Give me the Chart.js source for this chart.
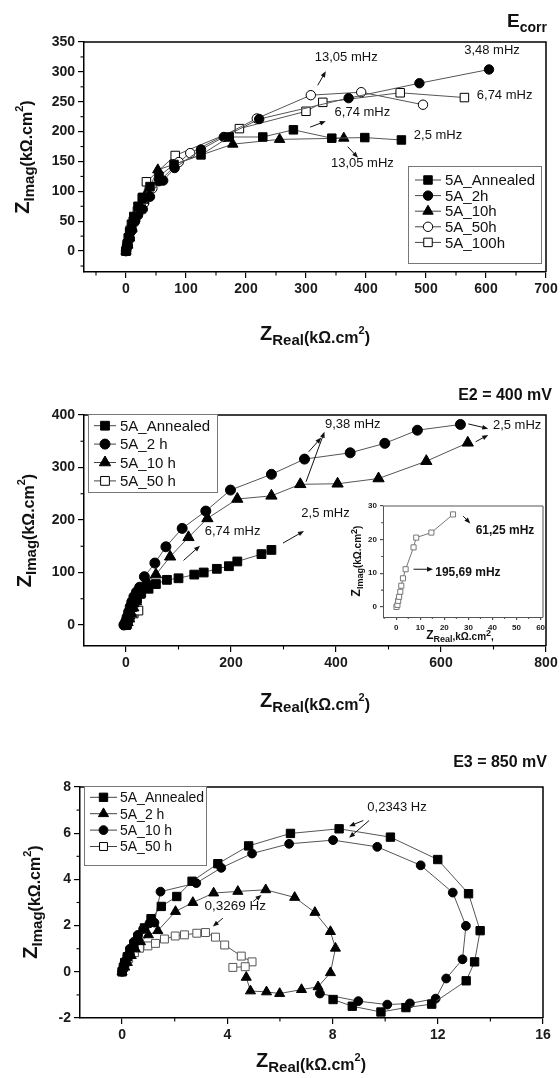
<!DOCTYPE html>
<html>
<head>
<meta charset="utf-8">
<script src="https://cdn.jsdelivr.net/npm/chart.js@4"></script>
<style>
html, body { margin: 0; padding: 0; background: #fff; }
#wrap { position: relative; width: 560px; height: 1078px; }
.p { position: absolute; left: 0; width: 560px; }
</style>
</head>
<body>
<div id="wrap">
  <div class="p" style="top:0;height:360px"><canvas id="c1"></canvas></div>
  <div class="p" style="top:360px;height:360px"><canvas id="c2"></canvas></div>
  <div class="p" style="top:720px;height:358px"><canvas id="c3"></canvas></div>
  <div class="p" style="top:500px;left:345px;width:205px;height:145px"><canvas id="c2i"></canvas></div>
</div>
<script>
const FONTE = '"Liberation Sans", Arial, sans-serif';

// ---------- E_corr ----------
const ecorrXTicks = [0, 100, 200, 300, 400, 500, 600, 700];
const ecorrYTicks = [0, 50, 100, 150, 200, 250, 300, 350];
const ecorrNomes = ['5A_Annealed', '5A_2h', '5A_10h', '5A_50h', '5A_100h'];
const ecorrAnnealed = [[0,0],[1,5],[2,12],[4,22],[6,32],[9,45],[13,58],[20,75],[28,90],[40,108],[55,125],[80,145],[125,161],[172,191],[228,191],[279,203],[343,189],[398,190],[459,186]];
const ecorr2h = [[0,0],[3,10],[6,22],[10,35],[15,50],[20,60],[28,70],[40,91],[55,117],[62,118],[81,139],[125,170],[163,191],[222,221],[371,256],[489,281],[605,304]];
const ecorr10h = [[0,0],[3,10],[6,22],[10,38],[15,55],[22,70],[30,85],[36,100],[53,136],[178,179],[256,187],[363,189]];
const ecorr50h = [[0,0],[3,8],[6,20],[10,35],[14,48],[20,62],[30,80],[44,105],[88,149],[107,164],[218,222],[308,261],[392,266],[495,245]];
const ecorr100h = [[0,0],[2,10],[4,22],[7,35],[12,50],[19,67],[27,89],[34,116],[82,160],[189,205],[300,234],[328,249],[457,265],[564,257]];

// ---------- E2 = 400 mV ----------
const e2XTicks = [0, 200, 400, 600, 800];
const e2YTicks = [0, 100, 200, 300, 400];
const e2Nomes = ['5A_Annealed', '5A_2 h', '5A_10 h', '5A_50 h'];
const e2Annealed = [[0,0],[2,6],[5,14],[8,24],[12,34],[16,43],[21,50],[29,61],[43,69],[57,78],[78,86],[100,89],[130,96],[148,100],[173,107],[196,112],[212,121],[258,135],[277,143]];
const e22h = [[-4,0],[-2,3],[0,8],[2,15],[5,25],[8,35],[11,44],[15,54],[20,63],[26,72],[35,92],[55,118],[76,149],[107,184],[152,217],[199,257],[277,287],[340,316],[427,328],[493,346],[555,371],[637,382]];
const e210h = [[0,0],[3,5],[6,12],[10,22],[14,33],[19,45],[25,57],[32,70],[40,83],[57,96],[84,130],[119,167],[155,203],[212,240],[277,246],[332,268],[403,269],[481,279],[572,312],[651,347]];
const e250h = [[0.1,0],[0.5,0.6],[0.8,1.8],[1.2,3.0],[1.7,4.5],[2.1,6.3],[2.8,8.5],[3.9,11.2],[7.2,17.7],[8.3,20.6],[14.6,22.1],[23.6,27.5]];
const insetXTicks = [0, 10, 20, 30, 40, 50, 60];
const insetYTicks = [0, 10, 20, 30];

// ---------- E3 = 850 mV ----------
const e3XTicks = [0, 4, 8, 12, 16];
const e3YTicks = [-2, 0, 2, 4, 6, 8];
const e3Nomes = ['5A_Annealed', '5A_2 h', '5A_10 h', '5A_50 h'];
const e3Annealed = [[0,0],[0.05,0.2],[0.1,0.4],[0.2,0.65],[0.3,0.9],[0.45,1.2],[0.6,1.5],[0.85,1.9],[1.1,2.3],[1.49,2.83],[2.08,3.26],[2.66,3.92],[3.64,4.68],[4.81,5.45],[6.4,5.99],[8.25,6.19],[10.2,5.83],[12.0,4.86],[13.17,3.38],[13.61,1.78],[13.4,0.43],[13.08,-0.39],[11.77,-1.4],[10.79,-1.55],[9.84,-1.74],[8.75,-1.49],[8.02,-1.2]];
const e32h = [[0,0],[0.1,0.2],[0.2,0.4],[0.35,0.7],[0.5,1.0],[0.7,1.3],[1.0,1.6],[1.36,1.78],[2.03,2.61],[2.69,3.0],[3.48,3.41],[4.4,3.48],[5.46,3.55],[6.56,3.22],[7.33,2.57],[7.92,1.74],[8.11,1.02],[7.92,-0.04],[7.45,-0.65],[6.82,-0.77],[5.99,-0.94],[5.49,-0.87],[4.88,-0.83],[4.72,-0.24]];
const e310h = [[0,0],[0.05,0.2],[0.1,0.45],[0.2,0.7],[0.3,1.0],[0.45,1.3],[0.6,1.6],[0.8,1.85],[1.04,2.1],[1.23,2.13],[1.46,3.47],[2.82,3.84],[3.77,4.5],[4.94,5.12],[6.35,5.54],[8.02,5.7],[9.7,5.41],[11.35,4.61],[12.57,3.43],[13.07,1.99],[12.94,0.54],[12.32,-0.29],[11.92,-1.16],[10.94,-1.37],[10.08,-1.42],[8.98,-1.27],[7.52,-0.94]];
const e350h = [[0,0],[0.1,0.3],[0.25,0.58],[0.47,0.83],[0.66,1.02],[0.98,1.12],[1.27,1.23],[1.61,1.42],[2.02,1.55],[2.37,1.6],[2.84,1.67],[3.17,1.7],[3.55,1.5],[3.9,1.16],[4.53,0.68],[4.94,0.43],[4.68,0.22],[4.21,0.19]];

// ---------- helpers ----------
function pts(arr) { return arr.map(p => ({ x: p[0], y: p[1] })); }

function serie(nome, dados, estilo, cheio, r, cor) {
  return {
    label: nome, data: pts(dados), showLine: true,
    borderColor: cor || '#555', borderWidth: 1,
    pointStyle: estilo, pointRadius: r, pointBorderWidth: 1,
    pointBorderColor: cor || '#000',
    pointBackgroundColor: cheio ? '#000' : '#fff'
  };
}

function eixo(min, max, ticks, extra) {
  const e = Object.assign({ tam: 14, tl: 6, cor: '#000', larg: 1.5, fixo: 30 }, extra || {});
  return {
    type: 'linear', min: min, max: max,
    afterBuildTicks: s => { s.ticks = ticks.map(v => ({ value: v })); },
    afterFit: s => {
      if (s.isHorizontal()) { s.height = e.fixo; s.paddingLeft = 0; s.paddingRight = 0; }
      else { s.width = e.fixo; s.paddingTop = 0; s.paddingBottom = 0; }
    },
    grid: { drawOnChartArea: false, drawTicks: true, tickLength: e.tl, lineWidth: 1.2, color: e.cor },
    border: { display: true, color: e.cor, width: e.larg },
    ticks: { color: '#1a1a1a', font: { family: FONTE, size: e.tam, weight: 'bold' }, padding: 3, maxRotation: 0, autoSkip: false }
  };
}

function marcador(ctx, estilo, r, x, y) {
  ctx.beginPath();
  if (estilo === 'circle') ctx.arc(x, y, r, 0, Math.PI * 2);
  else if (estilo === 'rect') { const s = r * Math.SQRT1_2; ctx.rect(x - s, y - s, 2 * s, 2 * s); }
  else {
    for (let k = 0; k < 3; k++) {
      const a = k * 2 * Math.PI / 3;
      const px = x + Math.sin(a) * r, py = y - Math.cos(a) * r;
      k ? ctx.lineTo(px, py) : ctx.moveTo(px, py);
    }
    ctx.closePath();
  }
  ctx.fill(); ctx.stroke();
}

function seta(ctx, x1, y1, x2, y2) {
  const a = Math.atan2(y2 - y1, x2 - x1), L = 6, W = 2.4;
  ctx.beginPath(); ctx.moveTo(x1, y1); ctx.lineTo(x2 - Math.cos(a) * L * 0.8, y2 - Math.sin(a) * L * 0.8); ctx.stroke();
  ctx.beginPath();
  ctx.moveTo(x2, y2);
  ctx.lineTo(x2 - Math.cos(a) * L - Math.sin(a) * W, y2 - Math.sin(a) * L + Math.cos(a) * W);
  ctx.lineTo(x2 - Math.cos(a) * L + Math.sin(a) * W, y2 - Math.sin(a) * L - Math.cos(a) * W);
  ctx.closePath(); ctx.fill();
}

function desenhaRico(ctx, partes, alinhar) {
  let total = 0;
  partes.forEach(p => { ctx.font = 'bold ' + p.s + 'px ' + FONTE; p.w = ctx.measureText(p.t).width; total += p.w; });
  let cx = alinhar === 'right' ? -total : alinhar === 'center' ? -total / 2 : 0;
  partes.forEach(p => { ctx.font = 'bold ' + p.s + 'px ' + FONTE; ctx.fillText(p.t, cx, p.dy || 0); cx += p.w; });
}

// moldura: borda superior/direita + ticks menores
const moldura = {
  id: 'moldura',
  afterDraw(chart, args, o) {
    const { ctx, chartArea: ca, scales: { x, y } } = chart;
    const cor = o.cor || '#000', tl = o.tl || 3.5;
    ctx.save();
    ctx.strokeStyle = cor; ctx.lineWidth = o.larg || 1.5;
    ctx.beginPath(); ctx.moveTo(ca.left, ca.top); ctx.lineTo(ca.right, ca.top); ctx.lineTo(ca.right, ca.bottom); ctx.stroke();
    ctx.lineWidth = 1.1;
    const menores = (esc, ticks) => {
      const passo = ticks[1] - ticks[0];
      const m = [];
      for (let v = ticks[0] - passo / 2; v <= esc.max; v += passo) if (v >= esc.min) m.push(v);
      return m;
    };
    menores(x, o.xt).forEach(v => { const p = x.getPixelForValue(v); ctx.beginPath(); ctx.moveTo(p, ca.bottom); ctx.lineTo(p, ca.bottom + tl); ctx.stroke(); });
    menores(y, o.yt).forEach(v => { const p = y.getPixelForValue(v); ctx.beginPath(); ctx.moveTo(ca.left, p); ctx.lineTo(ca.left - tl, p); ctx.stroke(); });
    ctx.restore();
  }
};

const legendaCaixa = {
  id: 'legendaCaixa',
  afterDraw(chart, args, o) {
    if (!o.w) return;
    const ctx = chart.ctx;
    ctx.save();
    ctx.fillStyle = '#fff'; ctx.fillRect(o.x, o.y, o.w, o.h);
    ctx.strokeStyle = '#777'; ctx.lineWidth = 1; ctx.strokeRect(o.x + 0.5, o.y + 0.5, o.w, o.h);
    ctx.font = o.tam + 'px ' + FONTE; ctx.textBaseline = 'middle';
    chart.data.datasets.forEach((ds, i) => {
      const cy = o.y0 + i * o.passo;
      ctx.strokeStyle = '#444'; ctx.lineWidth = 1;
      ctx.beginPath(); ctx.moveTo(o.l0, cy); ctx.lineTo(o.l1, cy); ctx.stroke();
      ctx.fillStyle = ds.pointBackgroundColor; ctx.strokeStyle = '#000';
      marcador(ctx, ds.pointStyle, ds.pointRadius, (o.l0 + o.l1) / 2, cy);
      ctx.fillStyle = '#111'; ctx.fillText(ds.label, o.tx, cy + 1);
    });
    ctx.restore();
  }
};

const anotacoes = {
  id: 'anotacoes',
  afterDraw(chart, args, o) {
    if (!o.itens) return;
    const { ctx, scales: { x, y } } = chart;
    ctx.save();
    ctx.fillStyle = '#111'; ctx.strokeStyle = '#111'; ctx.lineWidth = 1;
    ctx.textAlign = 'center'; ctx.textBaseline = 'middle';
    o.itens.forEach(a => {
      if (a.t) { ctx.font = a.f || ('13px ' + FONTE); ctx.fillText(a.t, x.getPixelForValue(a.x), y.getPixelForValue(a.y)); }
      else seta(ctx, x.getPixelForValue(a.x1), y.getPixelForValue(a.y1), x.getPixelForValue(a.x2), y.getPixelForValue(a.y2));
    });
    ctx.restore();
  }
};

const titulos = {
  id: 'titulos',
  afterDraw(chart, args, o) {
    if (!o.itens) return;
    const ctx = chart.ctx;
    ctx.save(); ctx.fillStyle = '#111'; ctx.textBaseline = 'alphabetic'; ctx.textAlign = 'left';
    o.itens.forEach(it => {
      ctx.save(); ctx.translate(it.x, it.y);
      if (it.rot) ctx.rotate(-Math.PI / 2);
      desenhaRico(ctx, it.partes, it.alinhar);
      ctx.restore();
    });
    ctx.restore();
  }
};

Chart.register(moldura, legendaCaixa, anotacoes, titulos);

const zReal = () => [{ t: 'Z', s: 20 }, { t: 'Real', s: 15, dy: 5 }, { t: '(kΩ.cm', s: 16, dy: 3 }, { t: '2', s: 11, dy: -6 }, { t: ')', s: 16, dy: 3 }];
const zImag = () => [{ t: 'Z', s: 20 }, { t: 'Imag', s: 15, dy: 5 }, { t: '(kΩ.cm', s: 16, dy: 3 }, { t: '2', s: 11, dy: -6 }, { t: ')', s: 16, dy: 3 }];

function grafico(id, datasets, sx, sy, padding, plugins) {
  return new Chart(document.getElementById(id), {
    type: 'scatter',
    data: { datasets: datasets },
    options: {
      responsive: true, maintainAspectRatio: false, animation: false,
      layout: { padding: padding },
      scales: { x: sx, y: sy },
      plugins: Object.assign({ legend: { display: false }, tooltip: { enabled: false } }, plugins)
    }
  });
}

// ---------- painel 1 ----------
grafico('c1', [
  serie(ecorrNomes[0], ecorrAnnealed, 'rect', true, 6),
  serie(ecorrNomes[1], ecorr2h, 'circle', true, 4.7),
  serie(ecorrNomes[2], ecorr10h, 'triangle', true, 6),
  serie(ecorrNomes[3], ecorr50h, 'circle', false, 4.7),
  serie(ecorrNomes[4], ecorr100h, 'rect', false, 6)
], eixo(-70, 700, ecorrXTicks), eixo(-35, 350, ecorrYTicks, { fixo: 84 }),
  { left: 0, top: 42, right: 14, bottom: 58 },
  {
    moldura: { xt: ecorrXTicks, yt: ecorrYTicks },
    legendaCaixa: { x: 408, y: 166, w: 133, h: 97, y0: 180, passo: 15.6, l0: 415, l1: 441, tx: 445, tam: 15 },
    anotacoes: { itens: [
      { t: '13,05 mHz', x: 367, y: 324 }, { x1: 319.5, y1: 277.5, x2: 333, y2: 301 },
      { t: '3,48 mHz', x: 610, y: 336 },
      { t: '6,74 mHz', x: 631, y: 261 },
      { t: '6,74 mHz', x: 394, y: 232.5 }, { x1: 307, y1: 207.5, x2: 333, y2: 217.5 },
      { t: '2,5 mHz', x: 520, y: 194 },
      { t: '13,05 mHz', x: 394, y: 147.5 }, { x1: 369.5, y1: 174.7, x2: 386.7, y2: 156.3 }
    ] },
    titulos: { itens: [
      { partes: [{ t: 'E', s: 19 }, { t: 'corr', s: 14, dy: 5 }], x: 547, y: 27, alinhar: 'right' },
      { partes: zReal(), x: 315, y: 340, alinhar: 'center' },
      { partes: zImag(), x: 29, y: 157, rot: true, alinhar: 'center' }
    ] }
  });

// ---------- painel 2 ----------
grafico('c2', [
  serie(e2Nomes[0], e2Annealed, 'rect', true, 6.2),
  serie(e2Nomes[1], e22h, 'circle', true, 5),
  serie(e2Nomes[2], e210h, 'triangle', true, 6.5),
  serie(e2Nomes[3], e250h, 'rect', false, 6.2)
], eixo(-80, 800, e2XTicks), eixo(-40, 400, e2YTicks, { fixo: 84 }),
  { left: 0, top: 55, right: 14, bottom: 44 },
  {
    moldura: { xt: e2XTicks, yt: e2YTicks },
    legendaCaixa: { x: 88, y: 54, w: 129, h: 78, y0: 65.7, passo: 18.4, l0: 94, l1: 116, tx: 120, tam: 15 },
    anotacoes: { itens: [
      { t: '9,38 mHz', x: 432, y: 383 }, { x1: 348, y1: 330, x2: 372, y2: 357 }, { x1: 343, y1: 273, x2: 378, y2: 368 },
      { t: '2,5 mHz', x: 745, y: 379.5 }, { x1: 652, y1: 383, x2: 690, y2: 374 }, { x1: 666, y1: 349, x2: 690, y2: 362 },
      { t: '2,5 mHz', x: 380, y: 211.6 }, { x1: 299, y1: 156, x2: 339, y2: 179 },
      { t: '6,74 mHz', x: 203, y: 178 }, { x1: 109.5, y1: 123, x2: 141, y2: 151 }
    ] },
    titulos: { itens: [
      { partes: [{ t: 'E2 = 400 mV', s: 16 }], x: 552, y: 40, alinhar: 'right' },
      { partes: zReal(), x: 315, y: 347, alinhar: 'center' },
      { partes: zImag(), x: 31, y: 170.5, rot: true, alinhar: 'center' }
    ] }
  });

// ---------- inset ----------
grafico('c2i', [
  serie(e2Nomes[3], e250h, 'rect', false, 3.6, '#777')
], eixo(-5.5, 61, insetXTicks, { tam: 8, tl: 3, cor: '#555', larg: 1, fixo: 18 }),
  eixo(-3, 30, insetYTicks, { tam: 8, tl: 3, cor: '#555', larg: 1, fixo: 38 }),
  { left: 0, top: 6, right: 7, bottom: 10 },
  {
    moldura: { xt: insetXTicks, yt: insetYTicks, cor: '#555', larg: 1, tl: 2 },
    anotacoes: { itens: [
      { t: '61,25 mHz', x: 45.2, y: 22.8, f: 'bold 12px ' + FONTE }, { x1: 27.8, y1: 27, x2: 30.8, y2: 24.8 },
      { t: '195,69 mHz', x: 29.8, y: 10.1, f: 'bold 12px ' + FONTE }, { x1: 7.2, y1: 11.2, x2: 15.3, y2: 11.2 }
    ] },
    titulos: { itens: [
      { partes: [{ t: 'Z', s: 12 }, { t: 'Real', s: 9, dy: 3 }, { t: ',kΩ.cm', s: 10, dy: 1 }, { t: '2', s: 9, dy: -3 }, { t: ',', s: 10, dy: 1 }], x: 115, y: 139, alinhar: 'center' },
      { partes: [{ t: 'Z', s: 12 }, { t: 'Imag', s: 9, dy: 3 }, { t: '(kΩ.cm', s: 10, dy: 1 }, { t: '2', s: 9, dy: -3 }, { t: ')', s: 10, dy: 1 }], x: 15, y: 61, rot: true, alinhar: 'center' }
    ] }
  });

// ---------- painel 3 ----------
grafico('c3', [
  serie(e3Nomes[0], e3Annealed, 'rect', true, 5.9),
  serie(e3Nomes[1], e32h, 'triangle', true, 5.8),
  serie(e3Nomes[2], e310h, 'circle', true, 4.4),
  serie(e3Nomes[3], e350h, 'rect', false, 5.6, '#555')
], eixo(-1.6, 16, e3XTicks), eixo(-2, 8, e3YTicks, { fixo: 80 }),
  { left: 0, top: 67, right: 17, bottom: 30 },
  {
    moldura: { xt: e3XTicks, yt: e3YTicks },
    legendaCaixa: { x: 84, y: 66, w: 122, h: 79, y0: 77.3, passo: 16.4, l0: 90, l1: 117, tx: 120, tam: 14 },
    anotacoes: { itens: [
      { t: '0,3269 Hz', x: 4.3, y: 2.83, f: '13.5px ' + FONTE }, { x1: 3.83, y1: 2.32, x2: 3.45, y2: 1.96 }, { x1: 4.98, y1: 3.04, x2: 5.3, y2: 3.33 },
      { t: '0,2343 Hz', x: 10.45, y: 7.12 }, { x1: 9.17, y1: 6.55, x2: 8.63, y2: 6.3 }, { x1: 9.39, y1: 6.55, x2: 8.63, y2: 5.8 }
    ] },
    titulos: { itens: [
      { partes: [{ t: 'E3 = 850 mV', s: 16 }], x: 547, y: 47, alinhar: 'right' },
      { partes: zReal(), x: 311, y: 347, alinhar: 'center' },
      { partes: zImag(), x: 37, y: 182, rot: true, alinhar: 'center' }
    ] }
  });
</script>
</body>
</html>
